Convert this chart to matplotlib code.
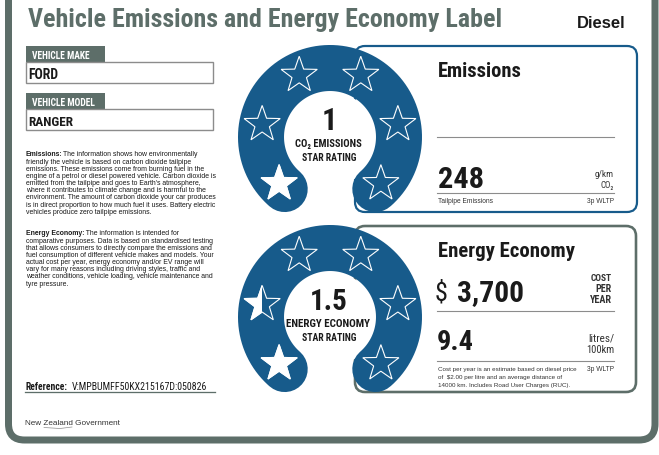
import numpy as np
import matplotlib
matplotlib.use("Agg")
import matplotlib.pyplot as plt
from matplotlib import font_manager as fm
from matplotlib.patches import FancyBboxPatch, Rectangle, Circle, Polygon

# ---- label data ----
title = "Vehicle Emissions and Energy Economy Label"
fuel_type = "Diesel"
vehicle_make = "FORD"
vehicle_model = "RANGER"
star_ratings = [1, 1.5]
rating_captions = [["CO₂ EMISSIONS", "STAR RATING"], ["ENERGY ECONOMY", "STAR RATING"]]
co2_g_per_km = 248
cost_per_year = 3700
litres_per_100km = 9.4
diesel_price = 2.00
distance_km = 14000
test_cycle = "3p WLTP"
reference = "V:MPBUMFF50KX215167D:050826"

emissions_note = [
    "The information shows how environmentally",
    "friendly the vehicle is based on carbon dioxide tailpipe",
    "emissions. These emissions come from burning fuel in the",
    "engine of a petrol or diesel powered vehicle. Carbon dioxide is",
    "emitted from the tailpipe and goes to Earth's atmosphere,",
    "where it contributes to climate change and is harmful to the",
    "environment. The amount of carbon dioxide your car produces",
    "is in direct proportion to how much fuel it uses. Battery electric",
    "vehicles produce zero tailpipe emissions.",
]
economy_note = [
    " The information is intended for",
    "comparative purposes. Data is based on standardised testing",
    "that allows consumers to directly compare the emissions and",
    "fuel consumption of different vehicle makes and models. Your",
    "actual cost per year, energy economy and/or EV range will",
    "vary for many reasons including driving styles, traffic and",
    "weather conditions, vehicle loading, vehicle maintenance and",
    "tyre pressure.",
]

GREEN = "#5d6e69"
BLUE = "#175b8b"
GREY = "#8c8c8c"
INK = "#1a1a1a"


def weight_num(w):
    if isinstance(w, (int, float)):
        return w
    return {"bold": 700, "semibold": 600, "medium": 500, "light": 300}.get(str(w).lower(), 400)


def find_narrow(target):
    # pick a condensed face from the installed fonts, Roboto Condensed first
    prefs = ["Roboto Condensed", "Liberation Sans Narrow", "Archivo Narrow"]
    best = None
    for f in fm.fontManager.ttflist:
        if f.style != "normal":
            continue
        narrow = ("Narrow" in f.name or "Condensed" in f.name or "Condensed" in f.fname
                  or "condensed" in str(f.stretch))
        if not narrow:
            continue
        rank = next((i for i, p in enumerate(prefs) if p in f.name), len(prefs))
        score = rank * 1000 + abs(weight_num(f.weight) - target)
        if best is None or score < best[0]:
            best = (score, f)
    if best:
        return fm.FontProperties(fname=best[1].fname)
    return fm.FontProperties(family="Roboto", weight=target)


NB = find_narrow(700)
NR = find_narrow(400)
SANS = "Liberation Sans"

fig = plt.figure(figsize=(6.59, 4.56), dpi=100)
ax = fig.add_axes([0, 0, 1, 1])
ax.set_xlim(0, 659)
ax.set_ylim(456, 0)
ax.axis("off")
renderer = fig.canvas.get_renderer()


def fit(t, width):
    # scale font size so the text spans the given pixel width
    w = t.get_window_extent(renderer).width
    t.set_fontsize(t.get_fontsize() * width / w)
    return t


def txt(x, y, s, size, family=SANS, weight="normal", color=INK, ha="left", width=None, **kw):
    if isinstance(family, fm.FontProperties):
        fp = family.copy()
        fp.set_size(size)
        t = ax.text(x, y, s, fontproperties=fp, color=color, ha=ha, va="baseline", **kw)
    else:
        t = ax.text(x, y, s, fontsize=size, family=[family, "DejaVu Sans"], fontweight=weight,
                    color=color, ha=ha, va="baseline", **kw)
    if width:
        fit(t, width)
    return t


def star(cx, cy, R):
    ang = np.deg2rad(90 + np.arange(10) * 36)
    rad = np.where(np.arange(10) % 2 == 0, R, R * 0.40)
    return np.column_stack([cx + rad * np.cos(ang), cy - rad * np.sin(ang)])


# ---- outer frame ----
ax.add_patch(FancyBboxPatch((8.5, -40), 646.5, 481, boxstyle="round,pad=0,rounding_size=16",
                            fc="none", ec=GREEN, lw=7 * 0.72, zorder=5))

txt(28, 27, title, 17, NB, color=GREEN, width=474)
txt(625, 28, fuel_type, 11.5, SANS, "bold", INK, ha="right", width=49)

# ---- make / model ----
for y0, tab, val, tw, vw in [(47, "VEHICLE MAKE", vehicle_make, 58, 30),
                             (94, "VEHICLE MODEL", vehicle_model, 63, 45)]:
    ax.add_patch(Rectangle((26, y0), 79, 16, fc=GREEN, ec="none"))
    txt(32, y0 + 12, tab, 6.5, NB, color="white", width=tw)
    ax.add_patch(Rectangle((26, y0 + 16), 187, 21, fc="white", ec=GREY, lw=1.4 * 0.72))
    txt(28, y0 + 32, val, 10, NB, color=INK, width=vw)


# ---- explanatory paragraphs ----
def paragraph(y0, head, lines, size):
    for i, line in enumerate(lines):
        y = y0 + i * 7.15
        if i == 0:
            h = txt(26, y, head, size, SANS, "bold", INK)
            ax.annotate(line, xy=(1, 0), xycoords=h, va="bottom", ha="left",
                        fontsize=size, family=SANS, color=INK)
        else:
            txt(26, y, line, size, SANS, "normal", INK)


probe = txt(26, -50, emissions_note[3], 5, SANS, width=191)
note_size = probe.get_fontsize()
probe.remove()
paragraph(156.5, "Emissions:", emissions_note, note_size)
paragraph(235.5, "Energy Economy:", economy_note, note_size)

txt(26, 390, "Reference:", 7, NB, color=INK, width=42)
txt(72, 390, reference, 7, NR, color=INK, width=137)
ax.plot([25, 215], [393.5, 393.5], color=GREEN, lw=1.3 * 0.72)

txt(25, 425, "New Zealand Government", 6, SANS, "normal", "#333333", width=96)
ax.plot([44, 60, 72], [428.5, 429.5, 428], color=GREY, lw=0.5)

# ---- result panels ----
ax.add_patch(FancyBboxPatch((355, 47), 282, 166, boxstyle="round,pad=0,rounding_size=10",
                            fc="white", ec=BLUE, lw=2.2 * 0.72, zorder=1))
ax.add_patch(FancyBboxPatch((355, 227), 281, 166, boxstyle="round,pad=0,rounding_size=10",
                            fc="white", ec=GREEN, lw=2.6 * 0.72, zorder=1))

# star-rating horseshoes
star_angles = 90 + 53 * np.array([2.5, 1.5, 0.5, -0.5, -1.5, -2.5])
theta = np.deg2rad(np.linspace(-49, 229, 200))
for k, (cy, rating, caps) in enumerate(zip([138, 318], star_ratings, rating_captions)):
    cx = 330
    ax.add_patch(Circle((cx, cy + 2), 47, fc="white", ec="none", zorder=2))
    ax.plot(cx + 69 * np.cos(theta), cy - 69 * np.sin(theta), color=BLUE,
            lw=46 * 0.72, solid_capstyle="round", zorder=3)
    for i, a in enumerate(star_angles):
        sx = cx + 69 * np.cos(np.deg2rad(a))
        sy = cy - 69 * np.sin(np.deg2rad(a))
        pts = star(sx, sy, 19)
        fill = np.clip(rating - i, 0, 1)
        ax.add_patch(Polygon(pts, closed=True, fc="none", ec="white", lw=0.8, zorder=4))
        if fill > 0:
            p = Polygon(pts, closed=True, fc="white", ec="white", lw=0.8, zorder=4)
            ax.add_patch(p)
            if fill < 1:
                clip = Rectangle((sx - 20, sy - 20), 40 * fill, 40, transform=ax.transData)
                p.set_clip_path(clip)
    num = txt(cx - 1, cy - 8, f"{rating:g}", 22, NB, color=INK, ha="center")
    if k == 1:
        fit(num, 38)
    txt(cx - 2, cy + 9, caps[0], 8, NB, color=INK, ha="center", width=[67, 84][k])
    txt(cx - 1, cy + 23, caps[1], 8, NB, color=INK, ha="center", width=55)

# emissions panel
txt(438, 77, "Emissions", 12, NB, color=INK, width=84)
ax.plot([437, 614], [138, 138], color=GREY, lw=0.8)
txt(438, 188, f"{co2_g_per_km}", 22, NB, color=INK, width=46)
txt(614, 177, "g/km", 6.5, NR, color="#333333", ha="right", width=19)
txt(614, 188, "CO₂", 6.5, NR, color="#333333", ha="right")
ax.plot([437, 614], [194, 194], color=GREY, lw=0.8)
txt(438, 203, "Tailpipe Emissions", 4.8, SANS, "normal", "#333333")
txt(614, 203, test_cycle, 4.8, SANS, "normal", "#333333", ha="right")

# energy economy panel
txt(438, 257, "Energy Economy", 12, NB, color=INK, width=137)
txt(435, 301, "$", 23, NR, color=INK, width=13)
txt(457, 301, f"{cost_per_year:,}", 22, NB, color=INK, width=67)
for j, (w, ww) in enumerate([("COST", 21), ("PER", 16), ("YEAR", 22)]):
    txt(612, 281.5 + j * 10.8, w, 7.5, NB, color="#333333", ha="right", width=ww)
ax.plot([437, 614], [311.5, 311.5], color=GREY, lw=0.8)
txt(437, 350, f"{litres_per_100km:g}", 22, NB, color=INK, width=37)
txt(614, 342, "litres/", 6.5, NR, color="#333333", ha="right", width=26)
txt(614, 353, "100km", 6.5, NR, color="#333333", ha="right", width=28)
ax.plot([437, 614], [362, 362], color=GREY, lw=0.8)
notes = [
    "Cost per year is an estimate based on diesel price",
    f"of  ${diesel_price:.2f} per litre and an average distance of",
    f"{distance_km} km. Includes Road User Charges (RUC).",
]
for j, line in enumerate(notes):
    txt(438, 371 + j * 8, line, 4.5, SANS, "normal", "#333333")
txt(614, 371, test_cycle, 4.8, SANS, "normal", "#333333", ha="right")

fig.savefig("out.png", dpi=100)
